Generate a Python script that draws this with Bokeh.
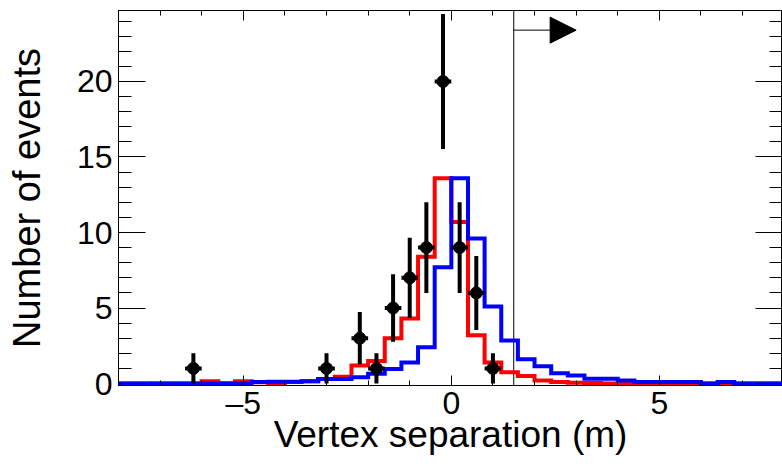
import numpy as np
from bokeh.plotting import figure
from bokeh.models import Range1d, FixedTicker, LinearAxis, Span, Arrow, NormalHead
from bokeh.embed import file_html
from bokeh.resources import INLINE

# ---- data ----
bin_edges = [round(-8.0 + 0.4 * i, 1) for i in range(41)]

red_mc = [0, 0, 0, 0, 0, 0.15, 0.02, 0.15, 0.08, 0.0,
          0.1, 0.15, 0.3, 0.45, 1.2, 1.5, 3.0, 4.3, 8.4, 13.6,
          10.7, 3.2, 1.4, 0.75, 0.5, 0.2, 0.1, 0.05, 0.04, 0,
          0, 0, 0, 0, 0, 0, 0, 0, 0, 0]

blue_mc = [0, 0, 0, 0, 0, 0, 0, 0, 0.1, 0.12,
           0.12, 0.15, 0.3, 0.3, 0.42, 0.64, 0.97, 1.4, 2.4, 7.7,
           13.6, 9.6, 5.1, 2.85, 1.6, 1.15, 0.68, 0.53, 0.31, 0.31,
           0.2, 0.1, 0.1, 0.1, 0.1, 0.0, 0.1, 0.0, 0, 0]

data_x = [-6.2, -3.0, -2.2, -1.8, -1.4, -1.0, -0.6, -0.2, 0.2, 0.6, 1.0]
data_n = [1, 1, 3, 1, 5, 7, 9, 20, 9, 6, 1]
data_err = [1.0, 1.0, 1.73, 1.0, 2.24, 2.65, 3.0, 4.47, 3.0, 2.45, 1.0]
bin_half_width = 0.2

cut_value = 1.5
arrow_end = 3.0
arrow_y = 23.4

x_major = [-5, 0, 5]
x_minor = list(range(-8, 9))
y_major = [0, 5, 10, 15, 20]
y_minor = list(range(0, 25))

FONT = "Liberation Sans"

p = figure(width=782, height=464,
           x_range=Range1d(-8, 7.96), y_range=Range1d(-0.13, 24.7),
           output_backend="svg", toolbar_location=None,
           x_axis_label="Vertex separation (m)", y_axis_label="Number of events",
           min_border_left=118, min_border_right=0, min_border_top=10, min_border_bottom=79)
p.xgrid.visible = False
p.ygrid.visible = False
p.outline_line_color = "black"
p.outline_line_width = 1
p.background_fill_color = "white"
p.border_fill_color = "white"

xticker = FixedTicker(ticks=x_major, minor_ticks=x_minor)
yticker = FixedTicker(ticks=y_major, minor_ticks=y_minor)

xa = p.xaxis[0]
xa.ticker = xticker
xa.major_tick_in = 10
xa.major_tick_out = 0
xa.minor_tick_in = 5
xa.minor_tick_out = 0
xa.major_label_standoff = -1
xa.major_label_text_font = FONT
xa.major_label_text_font_size = "32px"
xa.major_label_text_color = "black"
xa.major_label_overrides = {-5: "\u20135", 0: "0", 5: "5"}
xa.axis_label_text_font = FONT
xa.axis_label_text_font_size = "37px"
xa.axis_label_text_font_style = "normal"
xa.axis_label_text_color = "black"
xa.axis_label_standoff = -10
xa.axis_line_color = "black"

ya = p.yaxis[0]
ya.ticker = yticker
ya.major_tick_in = 27
ya.major_tick_out = 0
ya.minor_tick_in = 13
ya.minor_tick_out = 0
ya.major_label_standoff = 6
ya.major_label_text_font = FONT
ya.major_label_text_font_size = "32px"
ya.major_label_text_color = "black"
ya.axis_label_text_font = FONT
ya.axis_label_text_font_size = "38px"
ya.axis_label_text_font_style = "normal"
ya.axis_label_text_color = "black"
ya.axis_label_standoff = 26
ya.axis_line_color = "black"


def tick_only_axis(ticks, length):
    return LinearAxis(ticker=FixedTicker(ticks=[], minor_ticks=ticks),
                      major_tick_in=0, major_tick_out=0,
                      minor_tick_in=length, minor_tick_out=0,
                      major_label_standoff=0, axis_line_color="black")


p.add_layout(tick_only_axis(x_minor, 5), "above")
p.add_layout(tick_only_axis(x_major, 10), "above")
p.add_layout(tick_only_axis(y_minor, 13), "right")
p.add_layout(tick_only_axis(y_major, 27), "right")

p.add_layout(Span(location=cut_value, dimension="height", line_color="black", line_width=1, level="underlay"))

p.step(x=bin_edges, y=red_mc + [red_mc[-1]], mode="after", line_color="#ff0000", line_width=4, line_join="miter")
p.step(x=bin_edges, y=blue_mc + [blue_mc[-1]], mode="after", line_color="#0000ff", line_width=4, line_join="miter")

xs = np.array(data_x)
ns = np.array(data_n, dtype=float)
es = np.array(data_err)
p.segment(x0=xs, y0=ns - es, x1=xs, y1=ns + es, line_color="black", line_width=4)
p.segment(x0=xs - bin_half_width, y0=ns, x1=xs + bin_half_width, y1=ns, line_color="black", line_width=4)
p.scatter(x=xs, y=ns, size=12, marker="circle", fill_color="black", line_color="black")

p.add_layout(Arrow(end=NormalHead(size=26, fill_color="black", line_color="black", line_width=1),
                   x_start=cut_value, y_start=arrow_y, x_end=arrow_end, y_end=arrow_y,
                   line_color="black", line_width=1))

open("out.html", "w").write(file_html(p, INLINE))
